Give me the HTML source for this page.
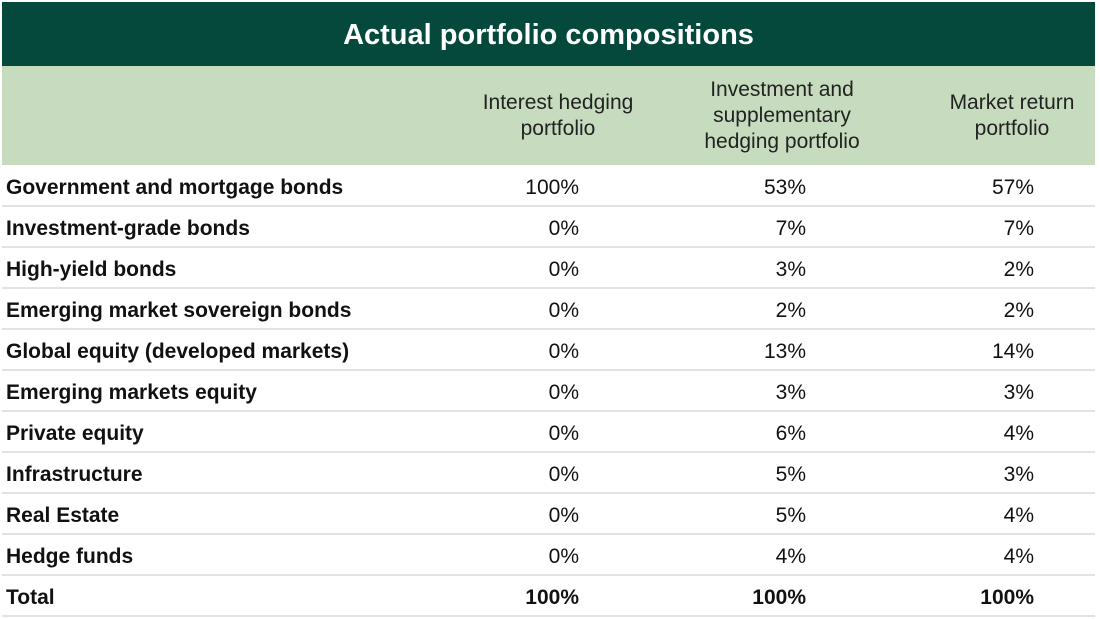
<!DOCTYPE html>
<html><head><meta charset="utf-8"><style>
body{margin:0;width:1100px;height:619px;background:#fff;font-family:"Liberation Sans",sans-serif;position:relative;overflow:hidden}
.t{position:absolute;left:2px;top:2px;width:1093px;height:64px;background:#04493b;color:#fff;font-weight:bold;font-size:29px;text-align:center;line-height:66px}
.h{position:absolute;left:2px;top:66px;width:1093px;height:99px;background:#c7dcbf}
.hc{position:absolute;top:0;height:99px;display:flex;align-items:center;justify-content:center;text-align:center;font-size:21px;color:#222;line-height:26px}
.r{position:absolute;left:2px;width:1093px;height:39px;border-bottom:2px solid #e3e3e3;font-size:21px;color:#111}
.r span{position:absolute;top:1px;line-height:41px}
.l{left:4px;font-weight:bold}
.v{text-align:right;width:100px}
.b .v{font-weight:bold}
</style></head><body>
<div class="t">Actual portfolio compositions</div>
<div class="h">
<div class="hc" style="left:456px;width:200px">Interest hedging<br>portfolio</div>
<div class="hc" style="left:670px;width:220px">Investment and<br>supplementary<br>hedging portfolio</div>
<div class="hc" style="left:910px;width:200px">Market return<br>portfolio</div>
</div>
<div id="rows"></div>
<script>
const labels=["Government and mortgage bonds","Investment-grade bonds","High-yield bonds","Emerging market sovereign bonds","Global equity (developed markets)","Emerging markets equity","Private equity","Infrastructure","Real Estate","Hedge funds","Total"];
const col1=[100,0,0,0,0,0,0,0,0,0,100];
const col2=[53,7,3,2,13,3,6,5,5,4,100];
const col3=[57,7,2,2,14,3,4,3,4,4,100];
const rights=[577,804,1032];
const c=document.getElementById('rows');
labels.forEach((lab,i)=>{
 const r=document.createElement('div');
 
 
 r.className='r'+(i===labels.length-1?' b':'');
 r.style.top=(166+i*41)+'px';
 const s=document.createElement('span');
 
 
 s.className='l';s.textContent=lab;r.appendChild(s);
 [col1,col2,col3].forEach((arr,j)=>{
  const v=document.createElement('span');
  
  
  v.className='v';v.style.left=(rights[j]-100)+'px';v.textContent=arr[i]+'%';r.appendChild(v);
 });
 c.appendChild(r);
});
</script>
</body></html>
